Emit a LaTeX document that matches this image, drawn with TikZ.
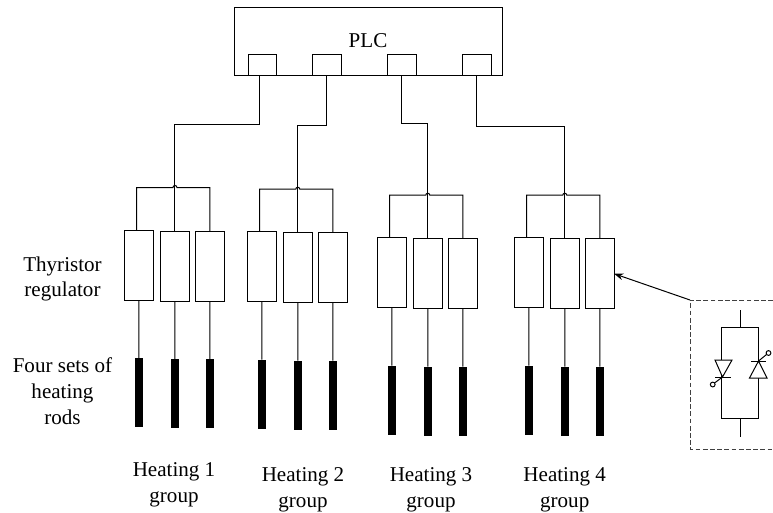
\documentclass[tikz,border=0pt]{standalone}
\usepackage{fontspec}
\setmainfont{Liberation Serif}
\usepackage{tikz}
\usetikzlibrary{arrows.meta, positioning, calc}
\tikzset{
  wire/.style={draw=black, line width=0.75pt},
  regbox/.style={draw=black, fill=white, line width=0.75pt, anchor=north west, inner sep=0pt, outer sep=0pt, minimum width=21.4pt, minimum height=52.5pt},
  heatrod/.style={fill=black, anchor=north, inner sep=0pt, outer sep=0pt, minimum width=5.6pt, minimum height=51.8pt},
  portbox/.style={draw=black, fill=white, line width=0.75pt, anchor=north west, inner sep=0pt, outer sep=0pt, minimum width=21.4pt, minimum height=15.8pt},
  plcbox/.style={draw=black, line width=0.75pt, anchor=north west, inner sep=0pt, outer sep=0pt, minimum width=200.8pt, minimum height=51pt},
  labeltext/.style={align=center, inner sep=0pt, font=\fontsize{15.8}{19.4}\selectfont},
  thyrbody/.style={draw=black, line width=0.75pt, line join=miter},
  gatering/.style={circle, draw=black, fill=white, line width=0.75pt, inner sep=0pt, minimum size=3.6pt},
  cutframe/.style={draw=black!75, line width=0.75pt, dash pattern=on 3.6pt off 1.8pt}
}
\newcommand{\heatgroup}[3]{%
  \begin{scope}[shift={(#2,#3)}]
    \node[regbox] (box#11) at (0,0) {};
    \node[regbox] (box#12) at (36,1) {};
    \node[regbox] (box#13) at (71,1) {};
    \node[heatrod] (rod#11) at (14.27,128) {};
    \node[heatrod] (rod#12) at (50.27,129) {};
    \node[heatrod] (rod#13) at (85.27,129) {};
    \coordinate (drop#1) at (12,0);
    \coordinate (hopl#1) at (48.27,-42.5);
    \coordinate (hopr#1) at (52.27,-42.5);
    \draw[wire] (box#13.north) |- (hopr#1) arc[start angle=0, end angle=-180, radius=2] -| (drop#1);
    \foreach \i in {1,2,3} {
      \draw[wire] (box#1\i.south) -- (rod#1\i.north);
    }
  \end{scope}%
}
\begin{document}
\begin{tikzpicture}[x=0.75pt, y=-0.75pt]
    \useasboundingbox (0,0) rectangle (773,512);

    % PLC with its four outputs
    \node[plcbox] (plc) at (234.5,7) {};
    \node[labeltext] (plclabel) at (368,40.5) {PLC};
    \node[portbox] (port1) at (248,54) {};
    \node[portbox] (port2) at (312.5,54) {};
    \node[portbox] (port3) at (387.5,54) {};
    \node[portbox] (port4) at (462.5,54) {};

    % Groups: regulators and rods
    \heatgroup{1}{124.7}{230}
    \heatgroup{2}{247.5}{231.7}
    \heatgroup{3}{377.5}{237.7}
    \heatgroup{4}{514.5}{237.7}

    % Feeds from the PLC
    \coordinate (drop) at (259.3,75);
    \coordinate (bend1) at ($(box12.north)+(0,-106.5)$);
    \coordinate (bend2) at ($(box22.north)+(0,-107.7)$);
    \coordinate (bend3) at ($(box32.north)+(0,-115.2)$);
    \coordinate (bend4) at ($(box42.north)+(0,-112.7)$);
    \draw[wire] (drop) |- (bend1) -- (box12.north);
    \draw[wire] (port2.south) |- (bend2) -- (box22.north);
    \draw[wire] (port3.south) |- (bend3) -- (box32.north);
    \draw[wire] (port4.south) |- (bend4) -- (box42.north);

    % Left captions
    \node[labeltext] (reglabel) at (62.5,279) {Thyristor\\regulator};
    \node[labeltext] (rodlabel) at (62.5,391.5) {Four sets of\\heating\\rods};

    % Group captions
    \node[labeltext] (grouplabel1) at (174,484.5) {Heating 1\\group};
    \node[labeltext] (grouplabel2) at (303,489.5) {Heating 2\\group};
    \node[labeltext] (grouplabel3) at (431,489.5) {Heating 3\\group};
    \node[labeltext] (grouplabel4) at (564.7,489.5) {Heating 4\\group};

    % Detail of one regulator
    \coordinate (cutcorner) at (690,300);
    \draw[cutframe] (773,300) -- (cutcorner) -- (690,449) -- (773,449);
    \draw[wire, -{Stealth[length=7pt, width=5pt]}] (cutcorner) -- (box43.east);

    \coordinate (thyrtop) at (740,310);
    \coordinate (thyrbot) at (740,437);
    \draw[wire] (thyrtop) -- (740,327) -- (721.7,327) -- (721.7,418) -- (758.5,418) -- (758.5,327) -- (740,327);
    \draw[wire] (740,418) -- (thyrbot);

    % Left thyristor, right thyristor
    \draw[thyrbody, fill=white] (715,360) -- (732,360) -- (722.5,377) -- cycle;
    \draw[thyrbody] (715,377) -- (731,377);
    \draw[thyrbody] (722.5,377) -- (714.5,383);
    \node[gatering] (gatel) at (712.7,384.5) {};
    \draw[thyrbody, fill=white] (749.5,378) -- (767,378) -- (758.5,361) -- cycle;
    \draw[thyrbody] (751,361) -- (766,361);
    \draw[thyrbody] (758.5,361) -- (766.5,354.5);
    \node[gatering] (gater) at (768.5,353) {};
\end{tikzpicture}
\end{document}
